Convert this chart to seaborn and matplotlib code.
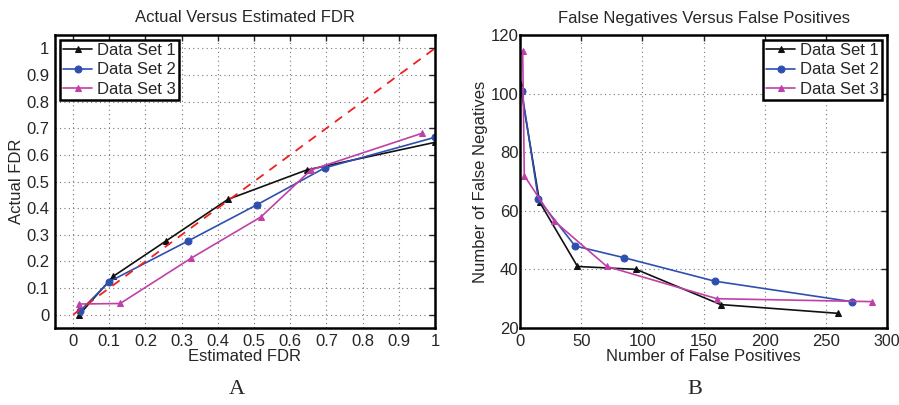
import numpy as np
import pandas as pd
import matplotlib
matplotlib.use("Agg")
import matplotlib.pyplot as plt
import seaborn as sns

# Panel A data
a_labels = ["Data Set 1", "Data Set 2", "Data Set 3"]
a_x1 = [0.017, 0.111, 0.257, 0.428, 0.645, 1.0]
a_y1 = [0.0, 0.144, 0.277, 0.433, 0.543, 0.647]
a_x2 = [0.02, 0.10, 0.318, 0.507, 0.695, 1.0]
a_y2 = [0.015, 0.124, 0.277, 0.412, 0.551, 0.666]
a_x3 = [0.015, 0.13, 0.326, 0.519, 0.657, 0.964]
a_y3 = [0.04, 0.042, 0.212, 0.367, 0.543, 0.681]
diag = [0.0, 1.0]

# Panel B data
b_x1 = [0, 16, 47, 95, 164, 260]
b_y1 = [103.5, 63, 41, 40, 28, 25]
b_x2 = [1.4, 15, 45, 85, 159, 271]
b_y2 = [101, 64, 48, 44, 36, 29]
b_x3 = [2.2, 3.5, 28, 71, 161, 288]
b_y3 = [114.5, 72, 56.5, 41, 30, 29]

colors = ["#111111", "#2f4fb0", "#c040a8"]
markers = ["^", "o", "^"]

sns.set_style("white")
plt.rcParams["font.family"] = ["Liberation Sans", "DejaVu Sans"]

fig = plt.figure(figsize=(8.99, 4.05), dpi=100)
axA = fig.add_axes([55/899, 77/405, 380/899, 293/405])
axB = fig.add_axes([520/899, 77/405, 367/899, 293/405])

def draw(ax, xs, ys):
    for i, (x, y) in enumerate(zip(xs, ys)):
        df = pd.DataFrame({"x": x, "y": y})
        sns.lineplot(data=df, x="x", y="y", ax=ax, sort=False, estimator=None,
                     color=colors[i], marker=markers[i], markersize=5,
                     markeredgecolor=colors[i], linewidth=1.2, label=a_labels[i])

draw(axA, [a_x1, a_x2, a_x3], [a_y1, a_y2, a_y3])
sns.lineplot(x=diag, y=diag, ax=axA, color="#ee2020", linestyle=(0, (5, 4)), linewidth=1.3)
draw(axB, [b_x1, b_x2, b_x3], [b_y1, b_y2, b_y3])

FS = 12

def style(ax, xlim, ylim, xt, yt, xtl, ytl, xlabel, ylabel, title, legloc):
    ax.set_xlim(*xlim)
    ax.set_ylim(*ylim)
    ax.set_xticks(xt)
    ax.set_yticks(yt)
    ax.set_xticklabels(xtl, fontsize=FS)
    ax.set_yticklabels(ytl, fontsize=FS)
    ax.set_xlabel(xlabel, fontsize=FS, labelpad=0)
    ax.set_ylabel(ylabel, fontsize=FS, labelpad=2)
    ax.set_title(title, fontsize=FS, pad=9)
    ax.grid(True, linestyle=(0, (1, 3)), color="#777777", linewidth=0.8)
    ax.tick_params(direction="in", length=4, top=True, right=True, width=1, pad=4)
    for s in ax.spines.values():
        s.set_visible(True)
        s.set_color("black")
        s.set_linewidth(1.8)
    leg = ax.legend(loc=legloc, fontsize=FS, frameon=True, fancybox=False,
                    borderpad=0.2, labelspacing=0.25, handlelength=1.7,
                    handletextpad=0.3, borderaxespad=0.3)
    leg.get_frame().set_edgecolor("black")
    leg.get_frame().set_linewidth(1.8)
    leg.get_frame().set_alpha(1)

style(axA, (-0.05, 1.0), (-0.05, 1.05), np.arange(0, 1.01, 0.1), np.arange(0, 1.01, 0.1),
      ["0", "0.1", "0.2", "0.3", "0.4", "0.5", "0.6", "0.7", "0.8", "0.9", "1"],
      ["0", "0.1", "0.2", "0.3", "0.4", "0.5", "0.6", "0.7", "0.8", "0.9", "1"],
      "Estimated FDR", "Actual FDR", "Actual Versus Estimated FDR", "upper left")
style(axB, (0, 300), (20, 120), [0, 50, 100, 150, 200, 250, 300], [20, 40, 60, 80, 100, 120],
      ["0", "50", "100", "150", "200", "250", "300"], ["20", "40", "60", "80", "100", "120"],
      "Number of False Positives", "Number of False Negatives",
      "False Negatives Versus False Positives", "upper right")
axB.tick_params(axis="x", pad=4)
axB.tick_params(axis="y", pad=1)
axB.get_xticklabels()[-1].set_horizontalalignment("right")
axB.get_xticklabels()[-1].set_x(300)
for lbl in axB.get_xticklabels()[-1:]:
    lbl.set_ha("center")
axB.set_xticklabels(["0", "50", "100", "150", "200", "250", "300"], fontsize=FS)
axB.get_xticklabels()[-1].set_fontsize(11.5)

fig.text(237/899, 1 - 390/405, "A", fontsize=16, family="Liberation Serif", ha="center", va="center")
fig.text(695/899, 1 - 390/405, "B", fontsize=16, family="Liberation Serif", ha="center", va="center")

fig.savefig("out.png", dpi=100)
